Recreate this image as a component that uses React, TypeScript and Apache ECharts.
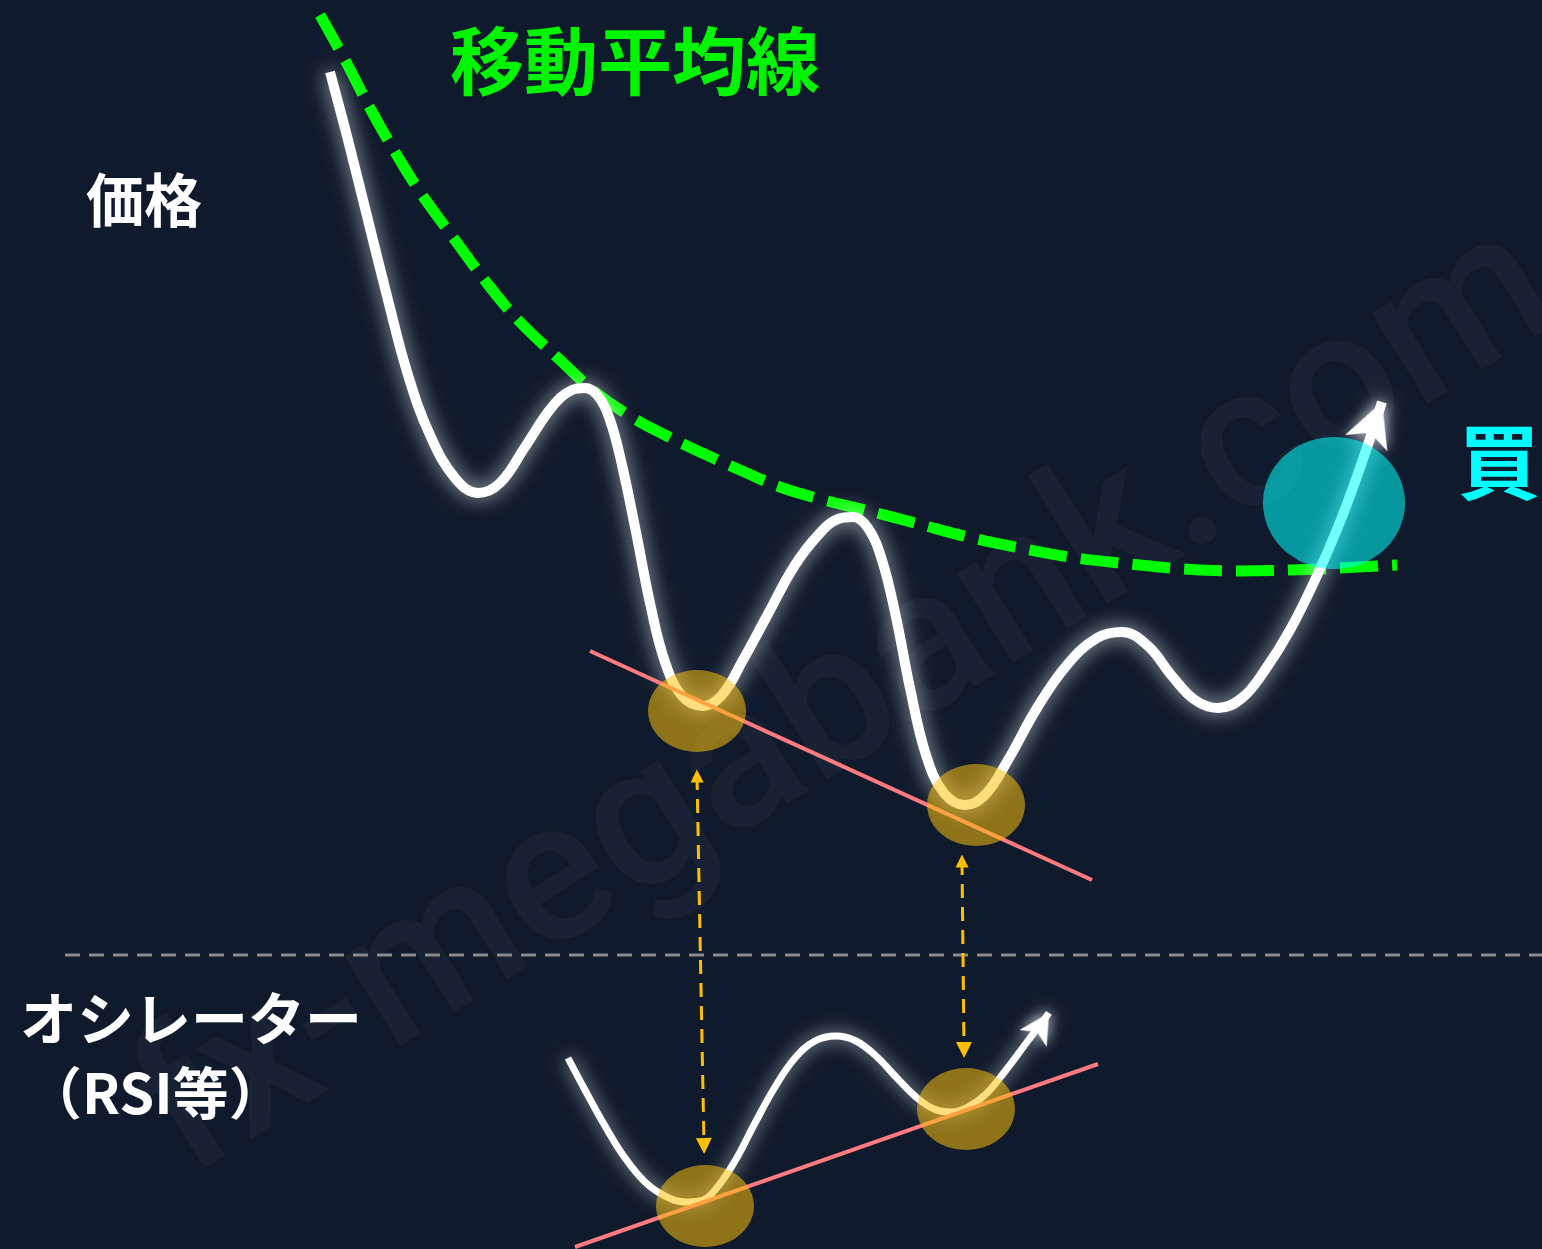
import React, { useEffect, useRef } from "react";
import * as echarts from "echarts";

// ---- Data (picture coordinates: x to the right, y downward) ----
const PRICE_POINTS: [number, number][] = [
  [330, 72], [348, 140], [368, 220], [388, 300], [408, 375], [430, 435], [455, 478], [478, 493],
  [500, 483], [525, 447], [552, 407], [572, 390], [585, 388], [598, 396], [610, 420], [622, 465],
  [636, 532], [650, 603], [665, 662], [682, 696], [703, 706], [722, 695], [743, 660], [768, 614],
  [795, 565], [820, 533], [838, 519], [853, 517], [868, 528], [882, 560], [896, 617], [910, 688],
  [926, 755], [944, 793], [965, 805], [985, 795], [1008, 760], [1037, 708], [1067, 665], [1097, 638],
  [1122, 632], [1148, 646], [1172, 676], [1195, 700], [1218, 708], [1242, 698], [1265, 670],
  [1290, 630], [1315, 580], [1340, 522], [1362, 462], [1382, 402],
];
const MA_POINTS: [number, number][] = [
  [320, 15], [346, 62], [371, 110], [395, 152], [420, 192], [455, 240], [490, 287], [520, 322],
  [560, 360], [595, 392], [630, 416], [665, 435], [700, 452], [740, 470], [780, 487], [820, 499],
  [861, 509], [915, 523], [968, 537], [1020, 548], [1076, 558], [1130, 564], [1183, 569],
  [1240, 571], [1291, 570], [1340, 568], [1397, 565],
];
const OSC_POINTS: [number, number][] = [
  [568, 1058], [585, 1090], [605, 1126], [625, 1158], [645, 1182], [665, 1196], [685, 1202],
  [700, 1201], [715, 1190], [735, 1161], [755, 1123], [775, 1087], [795, 1058], [815, 1041],
  [836, 1036], [856, 1041], [876, 1056], [896, 1077], [916, 1097], [934, 1109], [951, 1112],
  [968, 1107], [986, 1094], [1006, 1070], [1027, 1042], [1049, 1013],
];
const PRICE_TREND: [number, number][] = [[590, 651], [1092, 880]];
const OSC_TREND: [number, number][] = [[575, 1247], [1098, 1064]];
const LOW_MARKS: [number, number][] = [[697, 711], [976, 805], [705, 1206], [966, 1109]];
const BUY_MARK: [number, number][] = [[1334, 503]];
const LINK_ARROWS: [number, number][][] = [
  [[697, 776], [704, 1146]],
  [[962, 861], [964, 1050]],
];
const SEPARATOR: [number, number][] = [[65, 955], [1542, 955]];

const LABEL_PRICE = "価格";
const LABEL_MA = "移動平均線";
const LABEL_OSC1 = "オシレーター";
const LABEL_OSC2 = "（RSI等）";
const LABEL_BUY = "買";
const WATERMARK = "fx-megabank.com";

const W = 1542;
const H = 1249;
const CJK = '"Noto Sans CJK JP", "Noto Sans", sans-serif';

function withArrow(points: [number, number][], size: number[], rotate: number) {
  return points.map((p, i) =>
    i === points.length - 1
      ? {
          value: p,
          symbol: "arrow",
          symbolSize: size,
          symbolRotate: rotate,
          itemStyle: { color: "#ffffff", shadowBlur: 14, shadowColor: "rgba(255,255,255,0.7)" },
        }
      : { value: p, symbol: "none" }
  );
}

function label(text: string, x: number, y: number, size: number, fill: string) {
  return {
    type: "text",
    x,
    y,
    z: 100,
    style: {
      text,
      fontSize: size,
      fontWeight: "bold",
      fontFamily: CJK,
      fill,
      verticalAlign: "middle",
      textVerticalAlign: "middle",
    },
  };
}

export default function App() {
  const ref = useRef<HTMLDivElement>(null);

  useEffect(() => {
    if (!ref.current) return;
    const chart = echarts.init(ref.current, undefined, { renderer: "svg" });
    const option: any = {
      animation: false,
      backgroundColor: "#0f1a2c",
      grid: { left: 0, right: 0, top: 0, bottom: 0 },
      xAxis: { type: "value", min: 0, max: W, show: false },
      yAxis: { type: "value", min: 0, max: H, inverse: true, show: false },
      graphic: [
        {
          type: "text",
          x: 840,
          y: 690,
          rotation: (32 * Math.PI) / 180,
          z: 0,
          silent: true,
          style: {
            text: WATERMARK,
            fontSize: 200,
            fontFamily: "Roboto, sans-serif",
            fontWeight: 500,
            fill: "rgba(255,255,255,0.04)",
            align: "center",
            verticalAlign: "middle",
            textAlign: "center",
            textVerticalAlign: "middle",
          },
        },
        label(LABEL_PRICE, 86, 197, 58, "#ffffff"),
        label(LABEL_MA, 450, 56, 74, "#00f500"),
        label(LABEL_OSC1, 20, 1015, 57, "#ffffff"),
        label(LABEL_OSC2, 26, 1089, 56, "#ffffff"),
        label(LABEL_BUY, 1458, 457, 82, "#00ffff"),
      ],
      series: [
        {
          type: "line",
          data: SEPARATOR,
          symbol: "none",
          z: 1,
          lineStyle: { color: "#8a8a8a", width: 3, type: [15, 9] },
        },
        {
          type: "line",
          data: MA_POINTS,
          smooth: 0.4,
          symbol: "none",
          z: 2,
          lineStyle: { color: "#00ff00", width: 11, type: [38, 14], cap: "butt" },
        },
        {
          type: "line",
          data: withArrow(PRICE_POINTS, [34, 44], -21),
          smooth: 0.4,
          showSymbol: true,
          showAllSymbol: true,
          z: 3,
          lineStyle: {
            color: "#ffffff",
            width: 10,
            shadowBlur: 20,
            shadowColor: "rgba(255,255,255,0.75)",
          },
        },
        {
          type: "line",
          data: withArrow(OSC_POINTS, [24, 30], -32),
          smooth: 0.4,
          showSymbol: true,
          showAllSymbol: true,
          z: 3,
          lineStyle: {
            color: "#ffffff",
            width: 7,
            shadowBlur: 18,
            shadowColor: "rgba(255,255,255,0.7)",
          },
        },
        {
          type: "line",
          data: PRICE_TREND,
          symbol: "none",
          z: 4,
          lineStyle: { color: "#ff7b7f", width: 4 },
        },
        {
          type: "line",
          data: OSC_TREND,
          symbol: "none",
          z: 4,
          lineStyle: { color: "#ff7b7f", width: 4 },
        },
        {
          type: "lines",
          coordinateSystem: "cartesian2d",
          z: 4,
          symbol: ["triangle", "triangle"],
          symbolSize: [13, 16],
          data: LINK_ARROWS.map((c) => ({ coords: c })),
          lineStyle: { color: "#fdbf00", width: 3, type: [14, 9], opacity: 1 },
        },
        {
          type: "scatter",
          data: LOW_MARKS,
          symbol: "circle",
          symbolSize: [98, 82],
          z: 5,
          itemStyle: { color: "rgba(255,194,10,0.53)", opacity: 1 },
        },
        {
          type: "scatter",
          data: BUY_MARK,
          symbol: "circle",
          symbolSize: [142, 132],
          z: 5,
          itemStyle: { color: "rgba(0,255,255,0.55)", opacity: 1 },
        },
      ],
    };
    chart.setOption(option);
    return () => chart.dispose();
  }, []);

  return (
    <div
      ref={ref}
      style={{ position: "fixed", left: 0, top: 0, width: W, height: H }}
    />
  );
}
